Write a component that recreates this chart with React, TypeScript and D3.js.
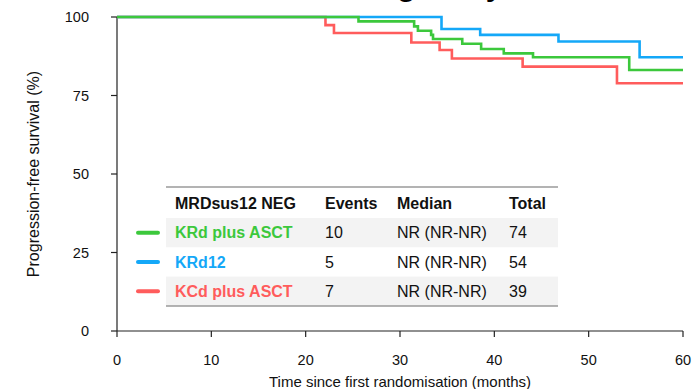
import React from "react";
import * as d3 from "d3";

// Kaplan–Meier step data: event times (months) and survival (%) after each event
const greenTimes = [0, 25.6, 31.5, 31.9, 33.3, 33.5, 36.6, 38.6, 41.0, 44.1, 54.3];
const greenSurv = [100, 98.6, 97.0, 95.6, 94.3, 93.0, 91.5, 89.8, 88.4, 87.2, 83.1];
const blueTimes = [0, 34.4, 38.5, 46.8, 55.4];
const blueSurv = [100, 96.2, 94.3, 92.2, 87.2];
const redTimes = [0, 22.1, 23.0, 31.2, 34.2, 35.5, 43.0, 53.0];
const redSurv = [100, 97.4, 94.9, 91.9, 89.5, 86.8, 84.2, 78.9];

const followUpEnd = 60;
const xTicks = [0, 10, 20, 30, 40, 50, 60];
const yTicks = [0, 25, 50, 75, 100];

const tableHeader = ["MRDsus12 NEG", "Events", "Median", "Total"];
const groupNames = ["KRd plus ASCT", "KRd12", "KCd plus ASCT"];
const groupEvents = ["10", "5", "7"];
const groupMedians = ["NR (NR-NR)", "NR (NR-NR)", "NR (NR-NR)"];
const groupTotals = ["74", "54", "39"];
const groupColors = ["#3cc83c", "#14a8f8", "#ff5c5c"];

const W = 695;
const H = 389;
const FONT = "Liberation Sans, Arial, Helvetica, sans-serif";

export default function App() {
  const x = d3.scaleLinear().domain([0, 60]).range([117, 683]);
  const y = d3.scaleLinear().domain([0, 100]).range([331, 17]);

  const line = d3
    .line<[number, number]>()
    .x((d) => x(d[0]))
    .y((d) => y(d[1]))
    .curve(d3.curveStepAfter);

  const toPts = (t: number[], s: number[]): [number, number][] => {
    const pts = t.map((ti, i) => [ti, s[i]] as [number, number]);
    pts.push([followUpEnd, s[s.length - 1]]);
    return pts;
  };

  const curves = [
    { pts: toPts(redTimes, redSurv), color: groupColors[2] },
    { pts: toPts(blueTimes, blueSurv), color: groupColors[1] },
    { pts: toPts(greenTimes, greenSurv), color: groupColors[0] },
  ];

  // table geometry
  const tLeft = 166;
  const tRight = 558;
  const colX = [175, 325, 397, 509];
  const headerY = 203;
  const rowTop = 218;
  const rowH = 29.3;

  return (
    <div style={{ position: "fixed", left: 0, top: 0 }}>
      <svg width={W} height={H} style={{ display: "block", fontFamily: FONT }}>
        <rect x={0} y={0} width={W} height={H} fill="#fff" />

        <text x={134} y={-4} fontSize={30} fontWeight="bold" fill="#000">
          Sustained MRD negativity
        </text>

        {/* axes */}
        <line x1={x(0)} x2={x(0)} y1={y(100)} y2={y(0)} stroke="#222" strokeWidth={1.2} />
        <line x1={x(0)} x2={x(60)} y1={y(0)} y2={y(0)} stroke="#222" strokeWidth={1.2} />
        {yTicks.map((t) => (
          <g key={"y" + t}>
            <line x1={x(0) - 6} x2={x(0)} y1={y(t)} y2={y(t)} stroke="#222" strokeWidth={1.2} />
            <text
              x={89}
              y={y(t)}
              dy="0.35em"
              textAnchor="end"
              fontSize={14.5}
              fill="#111"
            >
              {t}
            </text>
          </g>
        ))}
        {xTicks.map((t) => (
          <g key={"x" + t}>
            <line x1={x(t)} x2={x(t)} y1={y(0)} y2={y(0) + 6} stroke="#222" strokeWidth={1.2} />
            <text
              x={x(t)}
              y={360}
              dy="0.35em"
              textAnchor="middle"
              fontSize={14.5}
              fill="#111"
            >
              {t}
            </text>
          </g>
        ))}
        <text x={400} y={382} dy="0.35em" textAnchor="middle" fontSize={15} fill="#111">
          Time since first randomisation (months)
        </text>
        <text
          transform={`translate(33, ${y(50)}) rotate(-90)`}
          dy="0.35em"
          textAnchor="middle"
          fontSize={16}
          fill="#111"
        >
          Progression-free survival (%)
        </text>

        {/* survival curves */}
        {curves.map((c, i) => (
          <path
            key={i}
            d={line(c.pts) || ""}
            fill="none"
            stroke={c.color}
            strokeWidth={2.6}
            strokeLinejoin="miter"
          />
        ))}

        {/* summary table */}
        {groupNames.map((_, i) =>
          i % 2 === 0 ? (
            <rect
              key={"band" + i}
              x={tLeft}
              y={rowTop + i * rowH}
              width={tRight - tLeft}
              height={rowH}
              fill="#f3f3f3"
            />
          ) : null
        )}
        <line x1={tLeft} x2={tRight} y1={187} y2={187} stroke="#9a9a9a" strokeWidth={1.5} />
        <line
          x1={tLeft}
          x2={tRight}
          y1={rowTop + 3 * rowH}
          y2={rowTop + 3 * rowH}
          stroke="#9a9a9a"
          strokeWidth={1.5}
        />
        {tableHeader.map((h, j) => (
          <text
            key={"h" + j}
            x={colX[j]}
            y={headerY}
            dy="0.35em"
            fontSize={16}
            fontWeight="bold"
            fill="#111"
          >
            {h}
          </text>
        ))}
        {groupNames.map((name, i) => {
          const cy = rowTop + i * rowH + rowH / 2;
          return (
            <g key={"row" + i}>
              <line
                x1={138}
                x2={158}
                y1={cy}
                y2={cy}
                stroke={groupColors[i]}
                strokeWidth={4}
                strokeLinecap="round"
              />
              <text x={colX[0]} y={cy} dy="0.35em" fontSize={16} fontWeight="bold" fill={groupColors[i]}>
                {name}
              </text>
              <text x={colX[1]} y={cy} dy="0.35em" fontSize={16} fill="#111">
                {groupEvents[i]}
              </text>
              <text x={colX[2]} y={cy} dy="0.35em" fontSize={16} fill="#111">
                {groupMedians[i]}
              </text>
              <text x={colX[3]} y={cy} dy="0.35em" fontSize={16} fill="#111">
                {groupTotals[i]}
              </text>
            </g>
          );
        })}
      </svg>
    </div>
  );
}
